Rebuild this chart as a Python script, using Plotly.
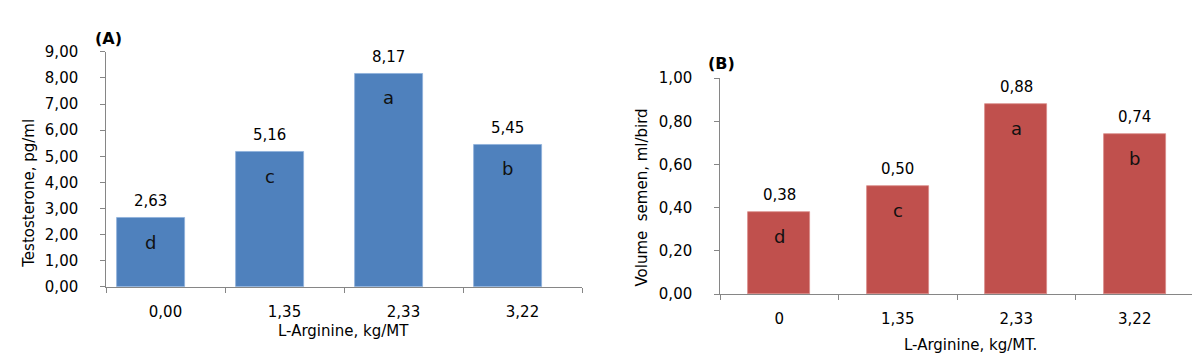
import plotly.graph_objects as go

# ---- data ----
cats_a = ["0,00", "1,35", "2,33", "3,22"]
testosterone = [2.63, 5.16, 8.17, 5.45]
letters_a = ["d", "c", "a", "b"]

cats_b = ["0", "1,35", "2,33", "3,22"]
semen_volume = [0.38, 0.50, 0.88, 0.74]
letters_b = ["d", "c", "a", "b"]

FONT = "DejaVu Sans, Verdana, sans-serif"
AXIS_GRAY = "#868686"
BLUE = "#4F81BD"
RED = "#C0504D"
FS = 15


def fmt(v):
    return f"{v:.2f}".replace(".", ",")


fig = go.Figure()

# Panel A bars (shifted left inside category, as in the original)
fig.add_trace(go.Bar(
    x=cats_a, y=testosterone, xaxis="x", yaxis="y",
    marker=dict(color=BLUE, line=dict(color="#8EB0DA", width=0.8)),
    width=0.57, offset=-0.41, showlegend=False, hoverinfo="x+y",
))
# Panel B bars
fig.add_trace(go.Bar(
    x=cats_b, y=semen_volume, xaxis="x2", yaxis="y2",
    marker=dict(color=RED, line=dict(color="#D98A88", width=0.8)),
    width=0.525, showlegend=False, hoverinfo="x+y",
))

annotations = []
shift_a = -15  # px, bar center offset from category center in panel A
for c, v, l in zip(cats_a, testosterone, letters_a):
    annotations.append(dict(x=c, y=v, xref="x", yref="y", text=fmt(v), showarrow=False,
                            xshift=shift_a, yshift=17, font=dict(size=FS, color="black", family=FONT)))
    annotations.append(dict(x=c, y=v, xref="x", yref="y", text=l, showarrow=False,
                            xshift=shift_a, yshift=-24, font=dict(size=18, color="#111111", family=FONT)))
for c, v, l in zip(cats_b, semen_volume, letters_b):
    annotations.append(dict(x=c, y=v, xref="x2", yref="y2", text=fmt(v), showarrow=False,
                            yshift=17, font=dict(size=FS, color="black", family=FONT)))
    annotations.append(dict(x=c, y=v, xref="x2", yref="y2", text=l, showarrow=False,
                            yshift=-24, font=dict(size=18, color="#111111", family=FONT)))

# Titles and panel labels (paper coords, derived from pixel layout 1200x362)
W, H = 1200, 362
def px(x, y):
    return x / W, 1 - y / H

for text, (x, y), angle, bold in [
    ("Testosterone, pg/ml", px(21, 186), -90, False),
    ("L-Arginine, kg/MT", px(335, 330), 0, False),
    ("Volume  semen, ml/bird", px(634, 190), -90, False),
    ("L-Arginine, kg/MT.", px(962, 345), 0, False),
    ("<b>(A)</b>", px(100, 23), 0, True),
    ("<b>(B)</b>", px(713, 49), 0, True),
]:
    annotations.append(dict(x=x, y=y, xref="paper", yref="paper", text=text, textangle=angle,
                            showarrow=False, xanchor="center", yanchor="middle",
                            font=dict(size=16 if bold else FS, color="black", family=FONT)))

xaxis_common = dict(
    type="category", showline=True, linecolor=AXIS_GRAY, linewidth=1,
    ticks="outside", tickson="boundaries", ticklen=5, tickcolor=AXIS_GRAY,
    showgrid=False, zeroline=False, ticklabelstandoff=11,
    tickfont=dict(size=FS, color="black", family=FONT), fixedrange=True,
)
yaxis_common = dict(
    showline=True, linecolor=AXIS_GRAY, linewidth=1,
    ticks="outside", ticklen=5, tickcolor=AXIS_GRAY,
    showgrid=False, zeroline=False, ticklabelstandoff=14,
    ticksuffix="\u00a0",
    tickfont=dict(size=FS, color="black", family=FONT), tickformat=".2f",
)

fig.update_layout(
    width=W, height=H,
    margin=dict(l=0, r=0, t=0, b=0),
    paper_bgcolor="white", plot_bgcolor="white",
    separators=",.",
    bargap=0,
    xaxis=dict(domain=[98 / W, 574 / W], anchor="y", **xaxis_common),
    yaxis=dict(domain=[1 - 284 / H, 1 - 36.7 / H], anchor="x", range=[0, 9], dtick=1, **yaxis_common),
    xaxis2=dict(domain=[712 / W, 1186 / W], anchor="y2", **xaxis_common),
    yaxis2=dict(domain=[1 - 291.7 / H, 1 - 64.3 / H], anchor="x2", range=[0, 1], dtick=0.2, **yaxis_common),
    annotations=annotations,
    font=dict(family=FONT, color="black"),
)

fig.write_html("out.html")
